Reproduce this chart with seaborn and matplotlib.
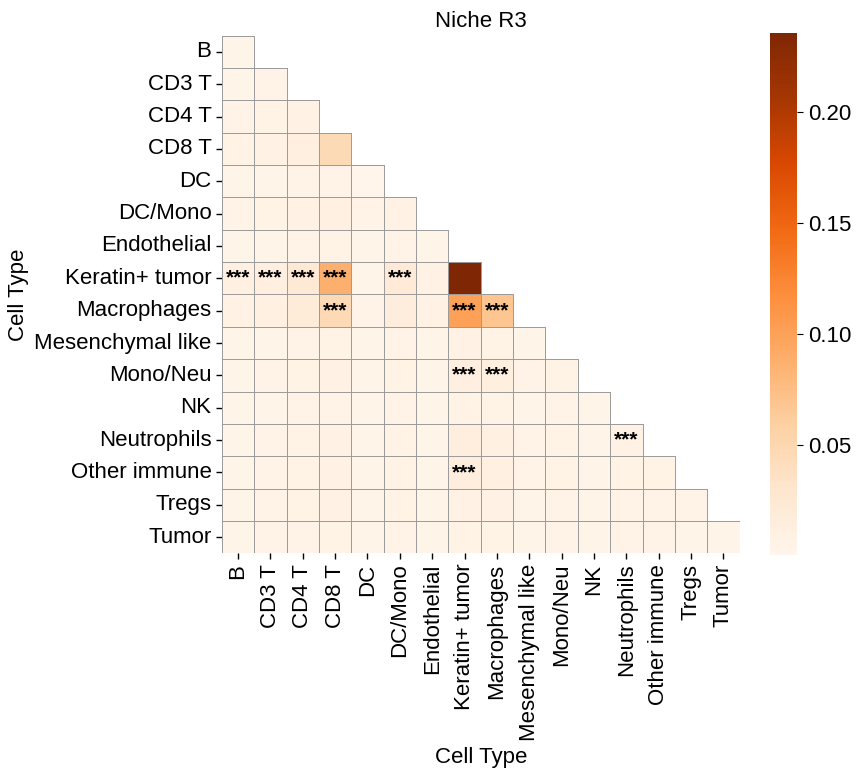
import numpy as np
import pandas as pd
import matplotlib
matplotlib.use("Agg")
import matplotlib.pyplot as plt
import seaborn as sns

sns.set_style("white")
plt.rcParams['font.family'] = ['Liberation Sans', 'DejaVu Sans']
plt.rcParams['text.color'] = 'black'
plt.rcParams['axes.labelcolor'] = 'black'
plt.rcParams['xtick.color'] = 'black'
plt.rcParams['ytick.color'] = 'black'

cell_types = ["B", "CD3 T", "CD4 T", "CD8 T", "DC", "DC/Mono", "Endothelial",
              "Keratin+ tumor", "Macrophages", "Mesenchymal like", "Mono/Neu",
              "NK", "Neutrophils", "Other immune", "Tregs", "Tumor"]

# lower-triangle rows (row i has i+1 values)
row_B = [0.004]
row_CD3T = [0.004, 0.005]
row_CD4T = [0.005, 0.006, 0.008]
row_CD8T = [0.006, 0.008, 0.012, 0.046]
row_DC = [0.004, 0.004, 0.005, 0.005, 0.0005]
row_DCMono = [0.005, 0.006, 0.007, 0.010, 0.005, 0.008]
row_Endo = [0.004, 0.004, 0.005, 0.006, 0.004, 0.005, 0.004]
row_Ker = [0.011, 0.012, 0.024, 0.087, 0.004, 0.022, 0.008, 0.236]
row_Mac = [0.008, 0.010, 0.020, 0.047, 0.005, 0.017, 0.007, 0.100, 0.069]
row_Mes = [0.004, 0.004, 0.005, 0.006, 0.004, 0.005, 0.004, 0.007, 0.006, 0.004]
row_MonoNeu = [0.004, 0.005, 0.006, 0.007, 0.004, 0.006, 0.004, 0.012, 0.013, 0.005, 0.006]
row_NK = [0.004, 0.004, 0.005, 0.005, 0.004, 0.005, 0.004, 0.006, 0.006, 0.004, 0.005, 0.004]
row_Neut = [0.004, 0.005, 0.006, 0.007, 0.004, 0.006, 0.004, 0.014, 0.010, 0.005, 0.006, 0.004, 0.009]
row_Other = [0.004, 0.005, 0.006, 0.008, 0.004, 0.006, 0.004, 0.014, 0.011, 0.005, 0.006, 0.004, 0.006, 0.006]
row_Tregs = [0.004, 0.005, 0.006, 0.007, 0.004, 0.006, 0.004, 0.009, 0.008, 0.004, 0.005, 0.004, 0.005, 0.005, 0.005]
row_Tumor = [0.004, 0.005, 0.005, 0.006, 0.004, 0.005, 0.004, 0.006, 0.006, 0.004, 0.005, 0.004, 0.005, 0.005, 0.004, 0.004]

rows = [row_B, row_CD3T, row_CD4T, row_CD8T, row_DC, row_DCMono, row_Endo, row_Ker,
        row_Mac, row_Mes, row_MonoNeu, row_NK, row_Neut, row_Other, row_Tregs, row_Tumor]

# significant pairs (row, column)
sig_pairs = [("Keratin+ tumor", "B"), ("Keratin+ tumor", "CD3 T"), ("Keratin+ tumor", "CD4 T"),
             ("Keratin+ tumor", "CD8 T"), ("Keratin+ tumor", "DC/Mono"),
             ("Macrophages", "CD8 T"), ("Macrophages", "Keratin+ tumor"), ("Macrophages", "Macrophages"),
             ("Mono/Neu", "Keratin+ tumor"), ("Mono/Neu", "Macrophages"),
             ("Neutrophils", "Neutrophils"), ("Other immune", "Keratin+ tumor")]

n = len(cell_types)
mat = np.full((n, n), np.nan)
for i, r in enumerate(rows):
    for j, v in enumerate(r):
        mat[i, j] = v
        mat[j, i] = v
df = pd.DataFrame(mat, index=cell_types, columns=cell_types)

annot = pd.DataFrame("", index=cell_types, columns=cell_types)
for r, c in sig_pairs:
    annot.loc[r, c] = "***"

mask = np.triu(np.ones((n, n), dtype=bool), k=1)

fig = plt.figure(figsize=(8.6, 7.78), dpi=100)
ax = fig.add_axes([0.258, 0.287, 0.602, 0.669])
cax = fig.add_axes([0.895, 0.287, 0.032, 0.671])

sns.heatmap(df, mask=mask, cmap="Oranges", annot=annot, fmt="",
            annot_kws={"fontsize": 15, "fontweight": "bold", "color": "black"},
            linewidths=0, square=True, ax=ax, cbar_ax=cax)

# staircase grid for the lower triangle only
grid_color = "#9a9a9a"
for k in range(n + 1):
    ax.plot([0, min(k + 1, n)], [k, k], color=grid_color, lw=0.7, zorder=3)
    ax.plot([k, k], [max(k - 1, 0), n], color=grid_color, lw=0.7, zorder=3)
ax.set_xlim(0, n)
ax.set_ylim(n, 0)

ax.set_title("Niche R3", fontsize=16)
ax.set_xlabel("Cell Type", fontsize=16)
ax.set_ylabel("Cell Type", fontsize=16)
ax.tick_params(axis="both", labelsize=16, length=4, width=1, left=True, bottom=True)
ax.set_xticklabels(cell_types, rotation=90)
ax.set_yticklabels(cell_types, rotation=0)
cax.tick_params(labelsize=16, length=4, right=True)
cax.set_yticks([0.05, 0.10, 0.15, 0.20])
cax.set_yticklabels(["0.05", "0.10", "0.15", "0.20"])

fig.savefig("out.png", dpi=100)
